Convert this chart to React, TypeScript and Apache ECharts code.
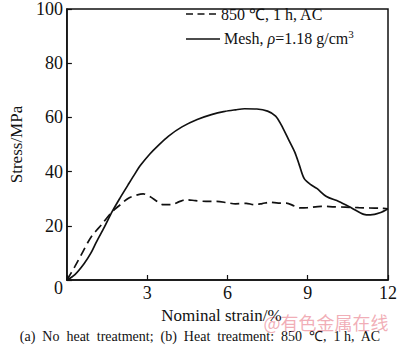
import React, { useEffect, useRef } from "react";
import * as echarts from "echarts";

const xTicks = [0, 3, 6, 9, 12];
const yTicks = [0, 20, 40, 60, 80, 100];

const heatTreated: [number, number][] = [
  [0, 0], [0.3, 5], [0.6, 10.5], [0.9, 15.8], [1.3, 20.5], [1.7, 25.3], [2.0, 27.8],
  [2.3, 30.2], [2.6, 31.3], [2.85, 31.8], [3.1, 30.8], [3.4, 28.8], [3.6, 27.8],
  [3.9, 27.8], [4.2, 28.9], [4.45, 29.6], [4.8, 29.3], [5.2, 29], [5.6, 29],
  [6.0, 28.5], [6.3, 28.1], [6.7, 28.3], [7.0, 27.8], [7.3, 28.2], [7.6, 28.7],
  [7.9, 28.4], [8.2, 28.4], [8.5, 27.3], [8.7, 26.6], [9.0, 26.7], [9.5, 27.2],
  [10.0, 27], [10.4, 26.9], [10.9, 26.7], [11.3, 26.6], [11.7, 26.5], [12, 26.3],
];

const mesh: [number, number][] = [
  [0, 0], [0.3, 2], [0.64, 6], [0.9, 10], [1.1, 14], [1.4, 19.5], [1.7, 25.4],
  [2.0, 30.5], [2.28, 35], [2.5, 38.5], [2.75, 42.3], [3.1, 46.5], [3.4, 49.5],
  [3.8, 53.1], [4.3, 56.5], [4.87, 59.2], [5.4, 61], [5.9, 62.2], [6.3, 62.8],
  [6.64, 63.2], [7.1, 63.1], [7.5, 62.3], [7.8, 60.5], [8.0, 57.4], [8.28, 51.9],
  [8.52, 47.1], [8.69, 42.3], [8.87, 37.4], [9.1, 35.3], [9.34, 33.8], [9.7, 30.8],
  [10.16, 29], [10.64, 26.6], [11.1, 24.2], [11.34, 24], [11.7, 24.8], [12, 26.3],
];

const legendLabels = ["850 ℃, 1 h, AC", "Mesh, "];
const xName = "Nominal strain/%";
const yName = "Stress/MPa";
const caption = "(a)  No  heat  treatment;  (b)  Heat  treatment:  850  ℃,  1 h,  AC";
const watermark = "@有色金属在线";

const FONT = "Liberation Serif";
const INK = "#111";

export default function App() {
  const ref = useRef<HTMLDivElement>(null);
  useEffect(() => {
    if (!ref.current) return;
    const chart = echarts.init(ref.current, null, { renderer: "svg" });
    chart.setOption({
      animation: false,
      backgroundColor: "#fff",
      grid: {
        left: 52, top: 4, width: 340, height: 276,
        show: true, borderColor: INK, borderWidth: 1.5, backgroundColor: "transparent",
      },
      xAxis: {
        type: "value", min: xTicks[0], max: xTicks[xTicks.length - 1], interval: 3,
        axisLine: { show: true, lineStyle: { color: INK, width: 1.5 } },
        axisTick: { show: true, inside: true, length: 5, lineStyle: { color: INK, width: 1.2 } },
        splitLine: { show: false },
        axisLabel: {
          color: INK, fontSize: 18, fontFamily: FONT, margin: 4,
          formatter: (v: number) => (v === 0 ? "" : String(v)),
        },
        name: xName, nameLocation: "middle", nameGap: 21,
        nameTextStyle: { color: INK, fontSize: 17, fontFamily: FONT, padding: [0, 12, 0, 0] },
      },
      yAxis: {
        type: "value", min: yTicks[0], max: yTicks[yTicks.length - 1], interval: 20,
        axisLine: { show: true, lineStyle: { color: INK, width: 1.5 } },
        axisTick: { show: true, inside: true, length: 5, lineStyle: { color: INK, width: 1.2 } },
        splitLine: { show: false },
        axisLabel: {
          color: INK, fontSize: 18, fontFamily: FONT, margin: 4,
          formatter: (v: number) => (v === 0 ? "{z|0}" : String(v)),
          rich: { z: { fontSize: 18, fontFamily: FONT, color: INK, padding: [16, 0, 0, 0] } },
        },
        name: yName, nameLocation: "middle", nameGap: 35,
        nameTextStyle: { color: INK, fontSize: 17, fontFamily: FONT },
      },
      series: [
        {
          type: "line", data: heatTreated, showSymbol: false, smooth: 0.3,
          lineStyle: { color: INK, width: 1.7, type: [9, 5] },
        },
        {
          type: "line", data: mesh, showSymbol: false, smooth: 0.3,
          lineStyle: { color: INK, width: 1.7 },
        },
      ],
      graphic: [
        { type: "line", shape: { x1: 186, y1: 14, x2: 219, y2: 14 }, style: { stroke: INK, lineWidth: 1.7, lineDash: [7, 4.5] } },
        { type: "text", x: 221, y: 14, style: { text: legendLabels[0], fontFamily: FONT, fontSize: 16, fill: INK, verticalAlign: "middle" } },
        { type: "line", shape: { x1: 186, y1: 39, x2: 220, y2: 39 }, style: { stroke: INK, lineWidth: 1.7 } },
        {
          type: "text", x: 224, y: 38,
          style: {
            text: `{n|${legendLabels[1]}}{i|ρ}{n|=1.18 g/cm}{s|3}`,
            verticalAlign: "middle",
            rich: {
              n: { fontFamily: FONT, fontSize: 16, fill: INK },
              i: { fontFamily: FONT, fontSize: 16, fontStyle: "italic", fill: INK },
              s: { fontFamily: FONT, fontSize: 11, fill: INK, padding: [0, 0, 8, 0] },
            },
          },
        },
        { type: "text", x: 200, y: 336, style: { text: caption, fontFamily: FONT, fontSize: 14, fill: INK, align: "center", verticalAlign: "middle" } },
        { type: "text", x: 326, y: 322, style: { text: watermark, fontFamily: "Noto Sans CJK SC", fontSize: 18, fill: "rgba(232,120,135,0.6)", align: "center", verticalAlign: "middle" } },
      ],
    });
    return () => chart.dispose();
  }, []);
  return (
    <div
      ref={ref}
      style={{ position: "absolute", left: 0, top: 0, width: 400, height: 347, background: "#fff" }}
    />
  );
}
